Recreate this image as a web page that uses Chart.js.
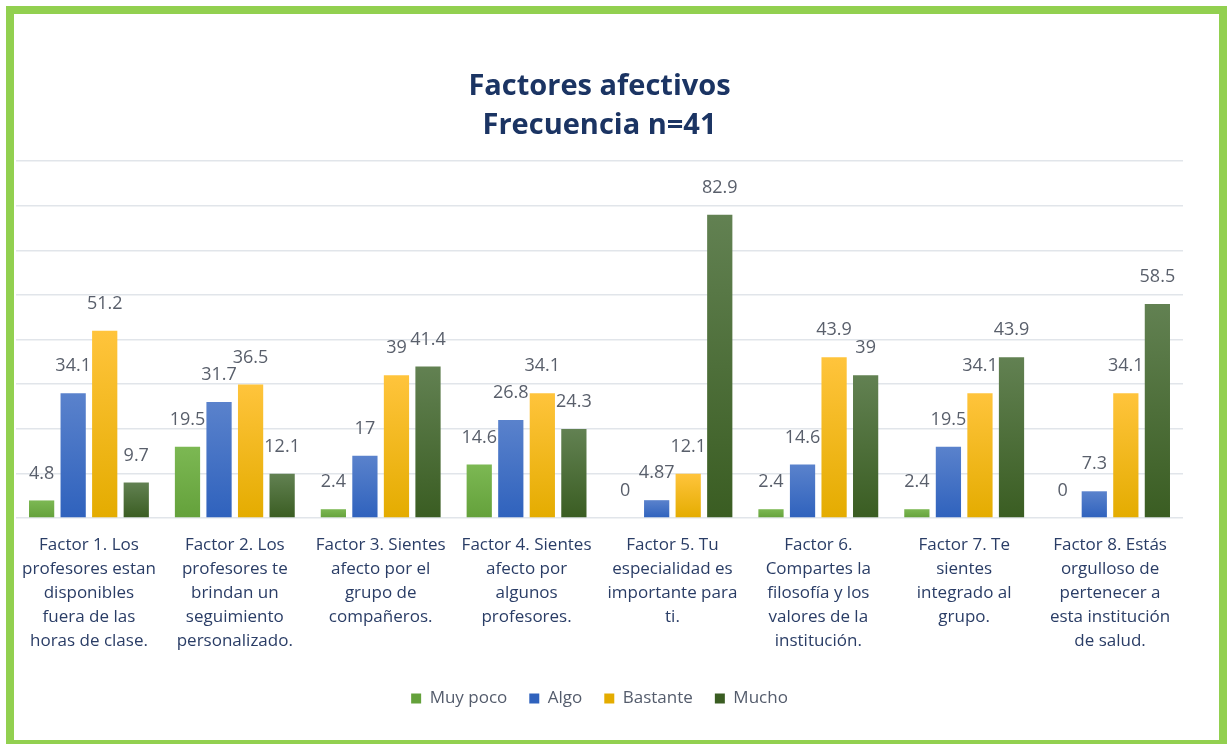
<!DOCTYPE html>
<html>
<head>
<meta charset="utf-8">
<script src="https://cdn.jsdelivr.net/npm/chart.js@4/dist/chart.umd.min.js"></script>
<style>
  html, body { margin: 0; padding: 0; background: #fff; }
  #wrap { position: relative; width: 1229px; height: 744px; }
  #frame { position: absolute; left: 6px; top: 6px; width: 1221px; height: 742px;
    border: 8px solid #92D050; box-sizing: border-box; pointer-events: none; }
  canvas { position: absolute; left: 0; top: 0; }
</style>
</head>
<body>
<div id="wrap">
  <canvas id="chart" width="1229" height="744"></canvas>
  <div id="frame"></div>
</div>
<script>
const categories = [
  ['Factor 1. Los', 'profesores estan', 'disponibles', 'fuera de las', 'horas de clase.'],
  ['Factor 2. Los', 'profesores te', 'brindan un', 'seguimiento', 'personalizado.'],
  ['Factor 3. Sientes', 'afecto por el', 'grupo de', 'compañeros.'],
  ['Factor 4. Sientes', 'afecto por', 'algunos', 'profesores.'],
  ['Factor 5. Tu', 'especialidad es', 'importante para', 'ti.'],
  ['Factor 6.', 'Compartes la', 'filosofía y los', 'valores de la', 'institución.'],
  ['Factor 7. Te', 'sientes', 'integrado al', 'grupo.'],
  ['Factor 8. Estás', 'orgulloso de', 'pertenecer a', 'esta institución', 'de salud.']
];
const muyPoco  = [4.8, 19.5, 2.4, 14.6, 0, 2.4, 2.4, 0];
const algo     = [34.1, 31.7, 17, 26.8, 4.87, 14.6, 19.5, 7.3];
const bastante = [51.2, 36.5, 39, 34.1, 12.1, 43.9, 34.1, 34.1];
const mucho    = [9.7, 12.1, 41.4, 24.3, 82.9, 39, 43.9, 58.5];

// n=41, axis runs to 40 respondents expressed as percent
const n = 41;
const axisMax = 40 / n * 100;
const axisStep = 5 / n * 100;

function barGradient(top, bottom) {
  return function (ctx) {
    const chart = ctx.chart;
    const area = chart.chartArea;
    if (!area || ctx.raw === undefined) return bottom;
    const y = chart.scales.y;
    const yTop = y.getPixelForValue(ctx.raw);
    const yBot = y.getPixelForValue(0);
    if (yBot - yTop < 1) return bottom;
    const g = chart.ctx.createLinearGradient(0, yTop, 0, yBot);
    g.addColorStop(0, top);
    g.addColorStop(1, bottom);
    return g;
  };
}

const valueLabels = {
  id: 'valueLabels',
  afterDatasetsDraw(chart) {
    const c = chart.ctx;
    c.save();
    c.font = '18px "Open Sans"';
    c.fillStyle = '#595f6b';
    c.textAlign = 'center';
    c.textBaseline = 'middle';
    chart.data.datasets.forEach((ds, i) => {
      const meta = chart.getDatasetMeta(i);
      meta.data.forEach((bar, j) => {
        c.fillText(String(ds.data[j]), bar.x, bar.y - 27);
      });
    });
    c.restore();
  }
};

const cfg = {
  type: 'bar',
  data: {
    labels: categories,
    datasets: [{
      label: 'Muy poco',
      data: muyPoco,
      backgroundColor: barGradient('#7cb853', '#64a13b')
    }, {
      label: 'Algo',
      data: algo,
      backgroundColor: barGradient('#5a82cc', '#2f62bd')
    }, {
      label: 'Bastante',
      data: bastante,
      backgroundColor: barGradient('#ffc43c', '#e4ac00')
    }, {
      label: 'Mucho',
      data: mucho,
      backgroundColor: barGradient('#628152', '#3a5d22')
    }]
  },
  options: {
    responsive: false,
    animation: false,
    categoryPercentage: 0.865,
    barPercentage: 0.8,
    layout: { padding: { left: 16, right: 46, top: 67, bottom: 27 } },
    plugins: {
      title: {
        display: true,
        text: ['Factores afectivos', 'Frecuencia n=41'],
        color: '#1b3463',
        font: { family: 'Open Sans', size: 29, weight: 'bold', lineHeight: 1.345 },
        padding: { top: 0, bottom: 16 }
      },
      legend: {
        position: 'bottom',
        labels: {
          color: '#545c6c',
          font: { family: 'Open Sans', size: 17 },
          boxWidth: 10,
          boxHeight: 10,
          padding: 22
        }
      },
      tooltip: { enabled: false }
    },
    scales: {
      x: {
        grid: { display: false },
        border: { display: false },
        ticks: {
          color: '#2a3d66',
          font: { family: 'Open Sans', size: 17, lineHeight: 24 / 17 },
          maxRotation: 0,
          autoSkip: false,
          padding: 7
        },
        afterFit(scale) { scale.height += 8; }
      },
      y: {
        min: 0,
        max: axisMax,
        ticks: { display: false, stepSize: axisStep },
        grid: { color: '#e1e5ea', lineWidth: 1.5, drawTicks: false },
        border: { display: false }
      }
    }
  },
  plugins: [valueLabels]
};

const chart = new Chart(document.getElementById('chart'), cfg);
</script>
</body>
</html>
